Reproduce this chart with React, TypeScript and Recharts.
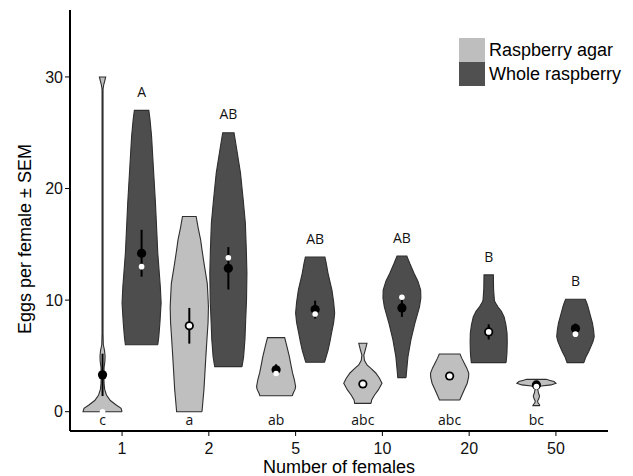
import React from 'react';
import { ComposedChart, Scatter, XAxis, YAxis } from 'recharts';

const categories = ['1', '2', '5', '10', '20', '50'];
const xTicks = [1, 2, 3, 4, 5, 6];
const yTicks = [0, 10, 20, 30];

// violin outlines: [eggs per female, relative half-width]
const agarProfiles: number[][][] = [
  [[0, 1.0], [0.3, 0.95], [0.6, 0.7], [1.0, 0.4], [1.5, 0.2], [2.0, 0.11], [2.5, 0.08], [3.0, 0.07], [3.5, 0.07], [4.0, 0.08], [4.5, 0.12], [5.0, 0.13], [5.5, 0.1], [6.0, 0.04], [7, 0.025], [28.9, 0.025], [29.3, 0.06], [29.7, 0.12], [30, 0.16]],
  [[0, 0.65], [1, 0.7], [2, 0.75], [3.5, 0.8], [5, 0.85], [6.4, 0.9], [8, 0.96], [9.4, 0.98], [10.5, 0.95], [11.5, 0.92], [13, 0.78], [14.5, 0.65], [15.4, 0.58], [16.5, 0.45], [17.5, 0.35]],
  [[1.43, 0.83], [1.67, 0.88], [2.0, 0.97], [2.24, 1.0], [2.84, 0.94], [3.5, 0.84], [4.2, 0.76], [4.93, 0.68], [5.8, 0.56], [6.64, 0.44]],
  [[0.75, 0.42], [1.05, 0.45], [1.5, 0.6], [1.95, 0.79], [2.55, 0.98], [3.0, 0.85], [3.47, 0.66], [3.9, 0.4], [4.19, 0.21], [4.6, 0.08], [5.08, 0.05], [5.5, 0.12], [6.13, 0.21]],
  [[1.05, 0.52], [1.65, 0.67], [2.55, 0.9], [3.1, 0.97], [3.44, 0.98], [3.9, 0.88], [4.34, 0.75], [4.8, 0.62], [5.17, 0.53]],
  [[0.54, 0.18], [0.65, 0.15], [0.8, 0.08], [0.95, 0.06], [1.15, 0.12], [1.4, 0.16], [1.7, 0.1], [2.0, 0.07], [2.2, 0.1], [2.3, 0.25], [2.4, 0.75], [2.55, 1.0], [2.7, 0.9], [2.8, 0.7], [2.9, 0.5]],
];

const wholeProfiles: number[][][] = [
  [[6.0, 0.83], [6.7, 0.88], [8.0, 0.94], [9.75, 1.0], [11.2, 0.96], [14.2, 0.83], [18.7, 0.71], [22, 0.6], [24.7, 0.51], [26.2, 0.43], [27.0, 0.37]],
  [[4.04, 0.7], [4.9, 0.78], [6.5, 0.85], [7.9, 0.88], [10, 0.93], [12.4, 0.95], [14.5, 0.92], [16.9, 0.87], [19.0, 0.76], [21.4, 0.62], [23.5, 0.43], [25.0, 0.29]],
  [[4.43, 0.48], [5.5, 0.66], [6.3, 0.76], [7.05, 0.84], [8.0, 0.95], [8.84, 1.0], [9.8, 0.95], [10.9, 0.86], [12.4, 0.66], [13.3, 0.57], [13.85, 0.5]],
  [[3.05, 0.21], [4.0, 0.26], [4.93, 0.31], [6.43, 0.46], [7.9, 0.66], [9.4, 0.9], [10.2, 0.97], [10.9, 0.96], [11.7, 0.82], [12.4, 0.62], [13.3, 0.4], [13.96, 0.25]],
  [[4.4, 0.89], [5.1, 0.93], [5.5, 0.94], [6.3, 0.95], [7.05, 0.94], [7.8, 0.88], [8.5, 0.79], [9.0, 0.65], [9.4, 0.47], [9.8, 0.33], [10.0, 0.29], [11, 0.25], [12.26, 0.24]],
  [[4.4, 0.43], [4.93, 0.54], [5.4, 0.68], [5.83, 0.79], [6.3, 0.9], [6.73, 0.96], [7.3, 0.93], [7.93, 0.87], [8.7, 0.75], [9.42, 0.64], [9.8, 0.57], [10.08, 0.5]],
];

const agarMean = [3.3, 7.7, 3.75, 2.48, 3.2, 2.4];
const agarSem = [1.9, 1.6, 0.5, 0.3, 0.3, 0.3];
const agarMedian = [0, 7.7, 3.42, 2.48, 3.2, 2.25];

const wholeMean = [14.2, 12.85, 9.15, 9.3, 7.15, 7.45];
const wholeSem = [2.1, 1.9, 0.8, 0.8, 0.68, 0.45];
const wholeMedian = [13.0, 13.8, 8.75, 10.25, 7.15, 6.95];

const agarLetters = ['c', 'a', 'ab', 'abc', 'abc', 'bc'];
const wholeLetters = ['A', 'AB', 'AB', 'AB', 'B', 'B'];

const DODGE = 0.225;
const HALF = 0.225;
const AGAR_FILL = '#bfbfbf';
const WHOLE_FILL = '#4d4d4d';
const OUTLINE = '#2e2e2e';

function violinPolygon(profile: number[][], center: number) {
  const right = profile.map(([y, w]) => ({ x: center + w * HALF, y }));
  const left = [...profile].reverse().map(([y, w]) => ({ x: center - w * HALF, y }));
  return [...right, ...left, right[0]];
}

const agarViolins = agarProfiles.map((p, i) => violinPolygon(p, xTicks[i] - DODGE));
const wholeViolins = wholeProfiles.map((p, i) => violinPolygon(p, xTicks[i] + DODGE));

const errorBars = [
  ...agarMean.map((m, i) => [
    { x: xTicks[i] - DODGE, y: m - agarSem[i] },
    { x: xTicks[i] - DODGE, y: m + agarSem[i] },
  ]),
  ...wholeMean.map((m, i) => [
    { x: xTicks[i] + DODGE, y: m - wholeSem[i] },
    { x: xTicks[i] + DODGE, y: m + wholeSem[i] },
  ]),
];

const meanData = [
  ...agarMean.map((m, i) => ({ x: xTicks[i] - DODGE, y: m })),
  ...wholeMean.map((m, i) => ({ x: xTicks[i] + DODGE, y: m })),
];
const medianData = [
  ...agarMedian.map((m, i) => ({ x: xTicks[i] - DODGE, y: m })),
  ...wholeMedian.map((m, i) => ({ x: xTicks[i] + DODGE, y: m })),
];
const letterData = [
  ...agarLetters.map((t, i) => ({ x: xTicks[i] - DODGE, y: -1.15, label: t })),
  ...wholeLetters.map((t, i) => ({
    x: xTicks[i] + DODGE,
    y: Math.max(...wholeProfiles[i].map((p) => p[0])) + 1.2,
    label: t,
  })),
];

const Empty = () => <g />;
const MeanDot = (p: any) => <circle cx={p.cx} cy={p.cy} r={4.6} fill="#000" />;
const MedianDot = (p: any) => <circle cx={p.cx} cy={p.cy} r={2.8} fill="#fff" />;
const LetterShape = (p: any) => (
  <text x={p.cx} y={p.cy} textAnchor="middle" fontFamily="'Open Sans', sans-serif" fontSize={14} fill="#111">
    {p.payload.label}
  </text>
);

const axisFont = "'Liberation Sans', Arial, sans-serif";

const YTitle = (props: any) => {
  const vb = props.viewBox || { x: 0, y: 10, width: 70, height: 421 };
  const x = vb.x + 31;
  const y = vb.y + vb.height / 2 + 18.5;
  return (
    <text x={x} y={y} transform={`rotate(-90 ${x} ${y})`} textAnchor="middle" fontFamily={axisFont} fontSize={18} fill="#000">
      Eggs per female ± SEM
    </text>
  );
};

const XTitle = (props: any) => {
  const vb = props.viewBox || { x: 70, y: 431, width: 538, height: 45 };
  return (
    <text x={vb.x + vb.width / 2} y={vb.y + 41.5} textAnchor="middle" fontFamily={axisFont} fontSize={18} fill="#000">
      Number of females
    </text>
  );
};

export default function App() {
  return (
    <div style={{ position: 'absolute', left: 0, top: 0, width: 633, height: 476, background: '#fff' }}>
      <ComposedChart width={633} height={476} margin={{ top: 10, right: 25, left: 0, bottom: 0 }}>
        <XAxis
          type="number"
          dataKey="x"
          domain={[0.4, 6.6]}
          ticks={xTicks}
          allowDataOverflow
          tickFormatter={(v: number) => categories[v - 1]}
          height={45}
          axisLine={{ stroke: '#000', strokeWidth: 2 }}
          tickLine={{ stroke: '#000', strokeWidth: 1 }}
          tickSize={5}
          tickMargin={7}
          tick={{ fontFamily: axisFont, fontSize: 16, fill: '#111' }}
          label={<XTitle />}
        />
        <YAxis
          type="number"
          dataKey="y"
          domain={[-1.73, 36]}
          ticks={yTicks}
          allowDataOverflow
          width={70}
          axisLine={{ stroke: '#000', strokeWidth: 2 }}
          tickLine={{ stroke: '#000', strokeWidth: 1 }}
          tickSize={5}
          tickMargin={2}
          tick={{ fontFamily: axisFont, fontSize: 16, fill: '#111' }}
          label={<YTitle />}
        />
        {agarViolins.map((pts, i) => (
          <Scatter
            key={'a' + i}
            data={pts}
            shape={Empty}
            line={{ fill: AGAR_FILL, stroke: OUTLINE, strokeWidth: 1.1 }}
            lineType="joint"
            isAnimationActive={false}
          />
        ))}
        {wholeViolins.map((pts, i) => (
          <Scatter
            key={'w' + i}
            data={pts}
            shape={Empty}
            line={{ fill: WHOLE_FILL, stroke: OUTLINE, strokeWidth: 1.1 }}
            lineType="joint"
            isAnimationActive={false}
          />
        ))}
        {errorBars.map((pts, i) => (
          <Scatter
            key={'e' + i}
            data={pts}
            shape={Empty}
            line={{ fill: 'none', stroke: '#000', strokeWidth: 2 }}
            lineType="joint"
            isAnimationActive={false}
          />
        ))}
        <Scatter data={meanData} shape={MeanDot} fill="#000" isAnimationActive={false} />
        <Scatter data={medianData} shape={MedianDot} fill="#fff" isAnimationActive={false} />
        <Scatter data={letterData} shape={LetterShape} fill="#111" isAnimationActive={false} />
      </ComposedChart>
      <div style={{ position: 'absolute', left: 459, top: 38, fontFamily: axisFont, fontSize: 18, color: '#000' }}>
        <div style={{ display: 'flex', alignItems: 'center', height: 24 }}>
          <div style={{ width: 26, height: 24, background: '#bebebe' }} />
          <span style={{ marginLeft: 4, lineHeight: '24px', whiteSpace: 'nowrap' }}>Raspberry agar</span>
        </div>
        <div style={{ display: 'flex', alignItems: 'center', height: 24 }}>
          <div style={{ width: 26, height: 24, background: '#505050' }} />
          <span style={{ marginLeft: 4, lineHeight: '24px', whiteSpace: 'nowrap' }}>Whole raspberry</span>
        </div>
      </div>
    </div>
  );
}
